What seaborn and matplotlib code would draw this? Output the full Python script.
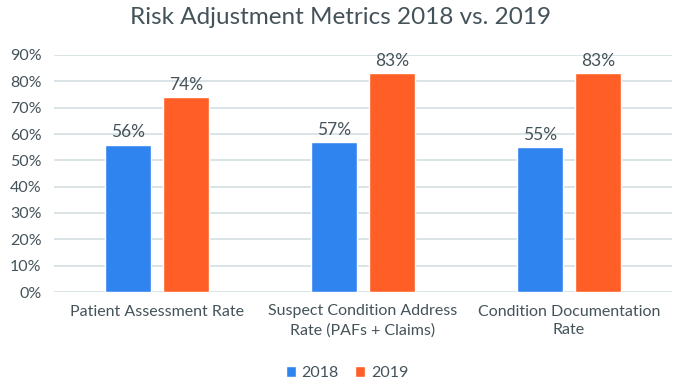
import pandas as pd
import numpy as np
import matplotlib.pyplot as plt
import seaborn as sns

# chart values
categories = ['Patient Assessment Rate',
              'Suspect Condition Address\nRate (PAFs + Claims)',
              'Condition Documentation\nRate']
years = ['2018', '2019']
rate_2018 = [0.56, 0.57, 0.55]
rate_2019 = [0.74, 0.83, 0.83]
y_ticks = [0.0, 0.1, 0.2, 0.3, 0.4, 0.5, 0.6, 0.7, 0.8, 0.9]

text_col = '#44535a'
grid_col = '#d3dfe2'
colors = {'2018': '#2f84f0', '2019': '#ff5f26'}

df = pd.DataFrame({
    'category': categories * 2,
    'year': [years[0]] * 3 + [years[1]] * 3,
    'rate': rate_2018 + rate_2019,
})

sns.set_theme(style='white')
plt.rcParams['font.family'] = ['Lato', 'DejaVu Sans']

fig = plt.figure(figsize=(6.8, 3.85), dpi=100)
ax = fig.add_axes([54 / 680, 1 - 292 / 385, 618 / 680, 237 / 385])

sns.barplot(data=df, x='category', y='rate', hue='year', palette=colors,
            saturation=1, width=0.563, gap=0.207, ax=ax, legend=True)

ax.set_ylim(0, 0.9)
ax.set_yticks(y_ticks)
ax.set_yticklabels([f'{int(round(t * 100))}%' for t in y_ticks])
ax.yaxis.grid(True, color=grid_col, linewidth=1.2)
ax.set_axisbelow(True)
for s in ax.spines.values():
    s.set_visible(False)
ax.set_xlabel('')
ax.set_ylabel('')
ax.tick_params(axis='y', colors=text_col, labelsize=11.5, length=0, pad=9)
ax.tick_params(axis='x', colors=text_col, labelsize=11.5, length=0, pad=9)
for lbl in ax.get_xticklabels():
    lbl.set_linespacing(1.45)

# value labels on top of bars
for cont in ax.containers:
    ax.bar_label(cont, labels=[f'{v * 100:.0f}%' for v in cont.datavalues],
                 padding=3, color=text_col, fontsize=12.5)

ax.legend_.remove()
handles, labels = ax.get_legend_handles_labels()
fig.legend(handles, labels, loc='center', bbox_to_anchor=(347 / 680, 1 - 373 / 385),
           ncol=2, frameon=False, fontsize=11.5, labelcolor=text_col,
           handlelength=0.65, handleheight=0.65, handletextpad=0.35, columnspacing=1.0)

fig.suptitle('Risk Adjustment Metrics 2018 vs. 2019', x=0.5, y=1 - 18 / 385,
             va='center', fontsize=17.5, color=text_col)

fig.savefig('out.png', dpi=100)
